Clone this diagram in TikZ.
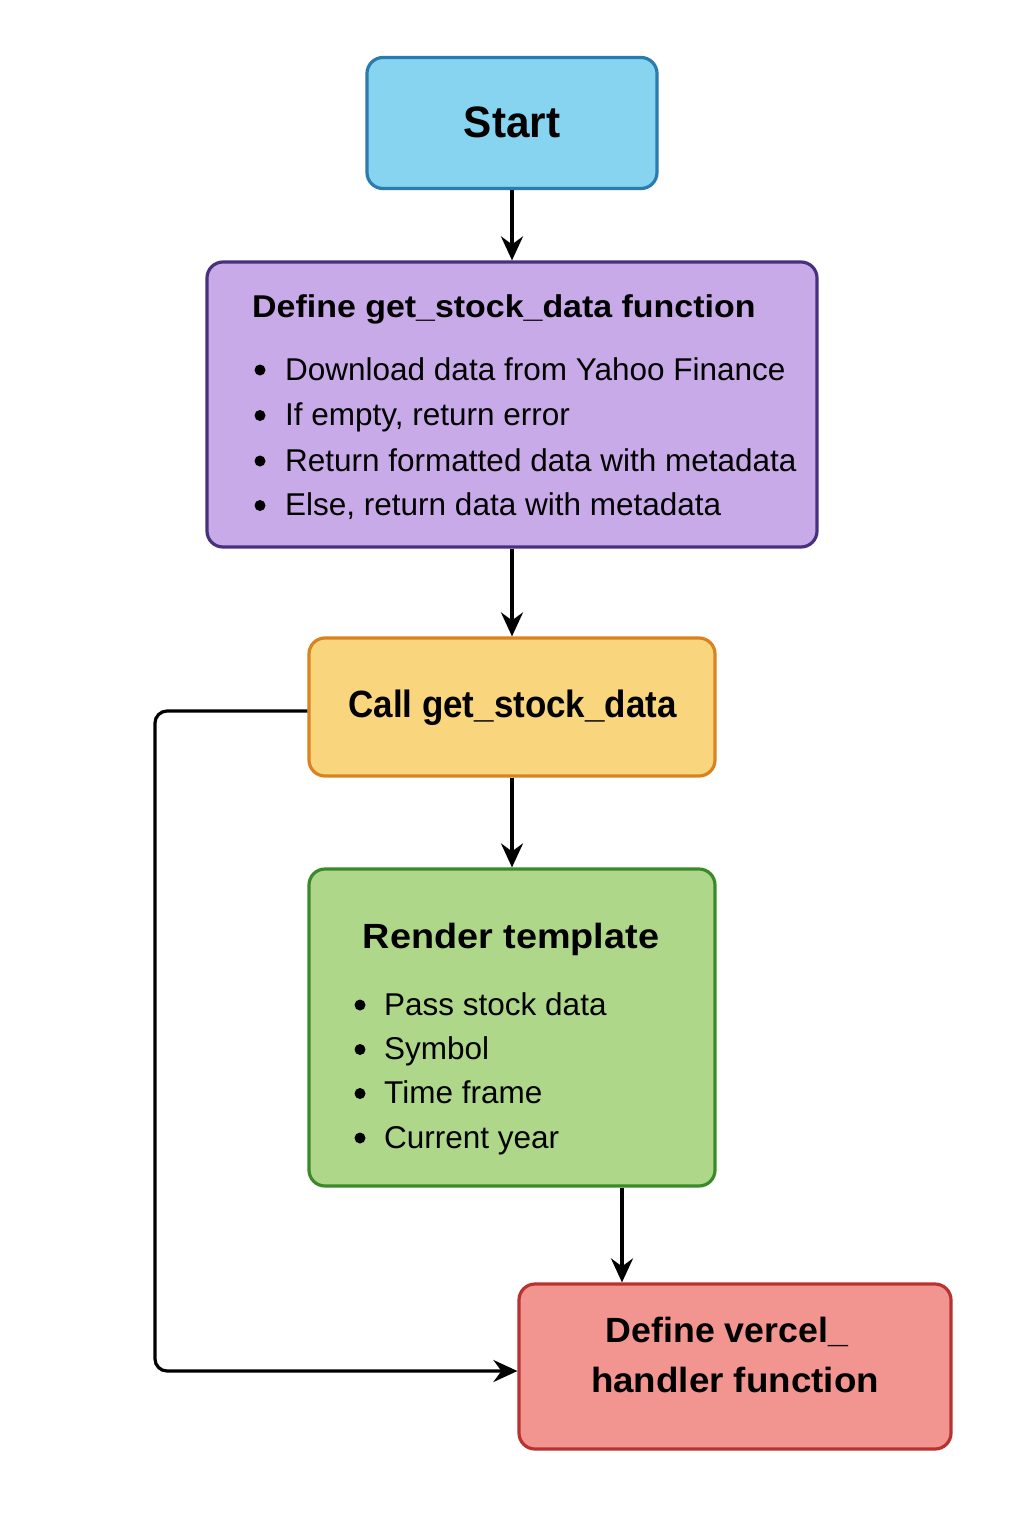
\documentclass[tikz,border=0pt]{standalone}
\usepackage{fontspec}
\setmainfont{Liberation Sans}
\usetikzlibrary{arrows.meta}
\definecolor{startfill}{HTML}{86D4F0}
\definecolor{startdraw}{HTML}{2A7CAE}
\definecolor{deffill}{HTML}{C9AAE9}
\definecolor{defdraw}{HTML}{47317F}
\definecolor{callfill}{HTML}{F9D67D}
\definecolor{calldraw}{HTML}{D9821F}
\definecolor{renfill}{HTML}{AED78A}
\definecolor{rendraw}{HTML}{3B8A2A}
\definecolor{verfill}{HTML}{F29490}
\definecolor{verdraw}{HTML}{B83232}
\begin{document}
\begin{tikzpicture}[x=1pt,y=-1pt,
  box/.style={draw, line width=3.2pt, rounded corners=16pt, inner sep=0pt},
  conn/.style={line width=3.2pt, -{Stealth[length=24pt,width=22pt,inset=8pt]}},
  itm/.style={font=\fontsize{31.5}{36}\selectfont, anchor=base west, inner sep=0pt},
  dot/.style={circle, fill=black, inner sep=0pt, minimum size=11pt}
]
\useasboundingbox (0,0) rectangle (1024,1536);
\fill[white] (0,0) rectangle (1024,1536);

% boxes
\node[box, fill=startfill, draw=startdraw, minimum width=290pt, minimum height=131pt] (start) at (512,123) {};
\node[box, fill=deffill, draw=defdraw, minimum width=610pt, minimum height=285pt] (def) at (512,404.5) {};
\node[box, fill=callfill, draw=calldraw, minimum width=406pt, minimum height=138pt] (call) at (512,707) {};
\node[box, fill=renfill, draw=rendraw, minimum width=406pt, minimum height=317pt] (ren) at (512,1027.5) {};
\node[box, fill=verfill, draw=verdraw, minimum width=432pt, minimum height=165pt] (ver) at (735,1366.5) {};

% texts
\node[font=\bfseries\fontsize{44}{48}\selectfont, inner sep=0pt, anchor=base, xscale=0.96] (tstart) at (512,138) {Start};

\node[font=\bfseries\fontsize{31.5}{36}\selectfont, inner sep=0pt, anchor=base west, xscale=1.077] (tdef) at (252,317) {Define get\_stock\_data function};
\foreach \y/\t [count=\i] in {380/Download data from Yahoo Finance, 425.5/{If empty, return error}, 471/Return formatted data with metadata, 515.5/{Else, return data with metadata}}{
  \node[dot] (bd\i) at (260,\y-10) {};
  \node[itm] (id\i) at (285,\y) {\t};
}

\node[font=\bfseries\fontsize{38}{42}\selectfont, inner sep=0pt, anchor=base, xscale=0.92] (tcall) at (512.5,717) {Call get\_stock\_data};

\node[font=\bfseries\fontsize{35}{40}\selectfont, inner sep=0pt, anchor=base, xscale=1.08] (tren) at (511,948) {Render template};
\foreach \y/\t [count=\i] in {1015/Pass stock data, 1059.5/Symbol, 1103.5/Time frame, 1148/Current year}{
  \node[dot] (br\i) at (360,\y-10) {};
  \node[itm] (ir\i) at (384,\y) {\t};
}

\node[font=\bfseries\fontsize{35}{40}\selectfont, inner sep=0pt, anchor=base, xscale=1.02] (tver1) at (727,1342) {Define vercel\_};
\node[font=\bfseries\fontsize{35}{40}\selectfont, inner sep=0pt, anchor=base, xscale=1.05] (tver2) at (735,1392) {handler function};

% connectors
\draw[conn] (start.south) -- (def.north);
\draw[conn] (def.south) -- (call.north);
\draw[conn] (call.south) -- (ren.north);
\coordinate (rsrc) at (ren.south -| 622,0);
\coordinate (rdst) at (ver.north -| 622,0);
\draw[conn] (rsrc) -- (rdst);
\coordinate (lc1) at (155,711);
\coordinate (lc2) at (155,1371);
\draw[conn, rounded corners=12pt] (call.west |- 0,711) -- (lc1) -- (lc2) -- (ver.west |- 0,1371);
\end{tikzpicture}
\end{document}
